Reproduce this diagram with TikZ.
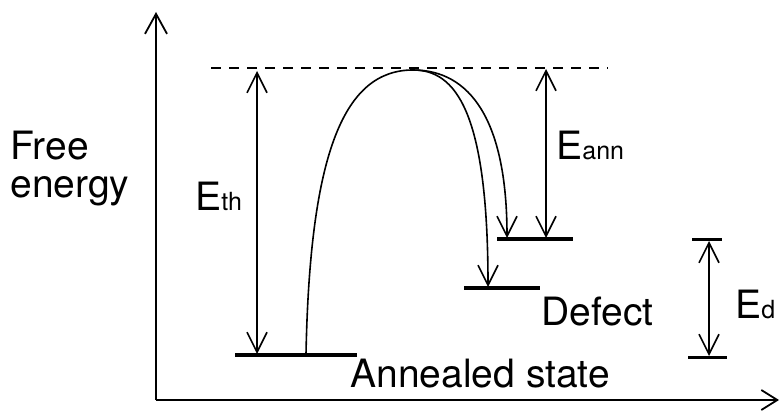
\documentclass[tikz,border=0pt]{standalone}
\usepackage{fontspec}
\setmainfont{TeX Gyre Heros}
\usetikzlibrary{arrows.meta,positioning}

\newcommand{\subsz}{\fontsize{12.5}{14}\selectfont}

\begin{document}
\begin{tikzpicture}[x=0.5pt, y=-0.5pt,
  axis/.style={draw=black, line width=1pt, -{Straight Barb[length=10pt, width=11pt, line width=0.9pt]}},
  gap/.style={draw=black, line width=0.8pt, {Straight Barb[length=10pt, width=10pt, line width=0.8pt]}-{Straight Barb[length=10pt, width=10pt, line width=0.8pt]}},
  curveline/.style={draw=black, line width=0.8pt},
  drop/.style={curveline, -{Straight Barb[length=10pt, width=10pt, line width=0.8pt]}},
  level/.style={draw=black, line width=2pt},
  txt/.style={font=\fontsize{19.5}{19}\selectfont, inner sep=0pt, anchor=base west},
  barrier/.style={draw=black, line width=1pt, dash pattern=on 5pt off 4pt}
]
  \useasboundingbox (0,0) rectangle (780,416);

  % axes
  \coordinate (origin) at (156,400);
  \coordinate (ytip) at (156,12);
  \coordinate (xtip) at (779,400);
  \draw[axis] (origin) -- (ytip);
  \draw[axis, -{Straight Barb[length=8pt, width=10pt, line width=0.9pt]}] (origin) -- (xtip);
  \node[txt, anchor=north west, align=left] (ylab) at (10,131) {Free\\energy};

  % energy levels
  \coordinate (ann1) at (235,355);
  \coordinate (ann2) at (357,355);
  \coordinate (def1) at (464,288);
  \coordinate (def2) at (540,288);
  \coordinate (up1) at (497,239);
  \coordinate (up2) at (573,239);
  \draw[level] (ann1) -- (ann2);
  \draw[level] (def1) -- (def2);
  \draw[level] (up1) -- (up2);

  % barrier top
  \coordinate (top1) at (211,68);
  \coordinate (top2) at (608,68);
  \draw[barrier] (top1) -- (top2);
  \coordinate (peak) at (413,70);

  % barrier path
  \coordinate (start) at (306,354);
  \draw[curveline] (start) .. controls (310,150) and (345,70) .. (peak);
  \draw[drop] (peak) .. controls (455,70) and (488,110) .. (488,287);
  \draw[drop] (peak) .. controls (470,70) and (507,120) .. (507,238);

  % energy gaps
  \coordinate (th1) at (257,71);
  \coordinate (th2) at (257,354);
  \draw[gap] (th1) -- (th2);
  \node[txt] (lth) at (195,211) {E{\subsz th}};

  \coordinate (an1) at (546,69);
  \coordinate (an2) at (546,238);
  \draw[gap] (an1) -- (an2);
  \node[txt] (lann) at (556,160) {E{\subsz ann}};

  \coordinate (ed1) at (692,240);
  \coordinate (ed2) at (722,240);
  \coordinate (ed3) at (688,357);
  \coordinate (ed4) at (727,357);
  \draw[level, line width=1.5pt] (ed1) -- (ed2);
  \draw[level, line width=1.5pt] (ed3) -- (ed4);
  \coordinate (edt) at (709,241);
  \coordinate (edb) at (709,356);
  \draw[gap] (edt) -- (edb);
  \node[txt] (led) at (735,318) {E{\subsz d}};

  % state names
  \node[txt] (ldef) at (541,325) {Defect};
  \node[txt] (lann2) at (350,387) {Annealed state};
\end{tikzpicture}
\end{document}
